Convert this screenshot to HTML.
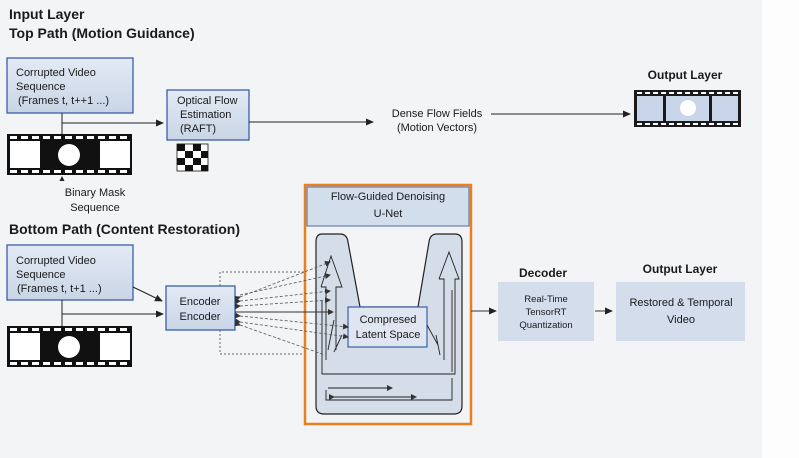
<!DOCTYPE html>
<html><head><meta charset="utf-8"><style>
html,body{margin:0;padding:0;background:#fff}
svg{display:block}
text{font-family:"Liberation Sans",sans-serif;fill:#1a1a1a}
</style></head><body>
<svg width="799" height="458" viewBox="0 0 799 458" xmlns="http://www.w3.org/2000/svg">
<defs>
<marker id="a" markerWidth="8" markerHeight="8" refX="7" refY="4" orient="auto" markerUnits="userSpaceOnUse"><path d="M0,0.5 L8,4 L0,7.5z" fill="#222"/></marker>
<marker id="s" markerWidth="6" markerHeight="6" refX="5" refY="3" orient="auto" markerUnits="userSpaceOnUse"><path d="M0,0 L6,3 L0,6z" fill="#333"/></marker>
<linearGradient id="g" x1="0" y1="0" x2="0" y2="1"><stop offset="0" stop-color="#e3eaf4"/><stop offset="1" stop-color="#c9d5e6"/></linearGradient>
</defs>
<rect width="762" height="458" fill="#f3f4f6"/>
<rect x="762" width="37" height="458" fill="#fdfdfd"/>

<text x="9" y="19" font-size="14" font-weight="bold">Input Layer</text>
<text x="9" y="38" font-size="14" font-weight="bold">Top Path (Motion Guidance)</text>

<rect x="7" y="58" width="126" height="55" fill="url(#g)" stroke="#3a5fa8" stroke-width="1.3"/>
<text x="16" y="76" font-size="11">Corrupted Video</text>
<text x="16" y="90" font-size="11">Sequence</text>
<text x="18" y="104" font-size="11">(Frames t, t++1 ...)</text>
<line x1="62" y1="113" x2="62" y2="134" stroke="#222"/>
<line x1="62" y1="123" x2="163" y2="123" stroke="#222" marker-end="url(#a)"/>

<g id="film">
<rect x="7" y="134" width="125" height="41" fill="#111"/>
<rect x="10" y="141" width="30" height="27" fill="#fff"/>
<rect x="100" y="141" width="30" height="27" fill="#fff"/>
<g fill="#fff">
<rect x="10" y="136" width="7" height="3"/><rect x="21" y="136" width="7" height="3"/><rect x="32" y="136" width="7" height="3"/><rect x="43" y="136" width="7" height="3"/><rect x="54" y="136" width="7" height="3"/><rect x="65" y="136" width="7" height="3"/><rect x="76" y="136" width="7" height="3"/><rect x="87" y="136" width="7" height="3"/><rect x="98" y="136" width="7" height="3"/><rect x="109" y="136" width="7" height="3"/><rect x="120" y="136" width="7" height="3"/>
<rect x="10" y="170" width="7" height="3"/><rect x="21" y="170" width="7" height="3"/><rect x="32" y="170" width="7" height="3"/><rect x="43" y="170" width="7" height="3"/><rect x="54" y="170" width="7" height="3"/><rect x="65" y="170" width="7" height="3"/><rect x="76" y="170" width="7" height="3"/><rect x="87" y="170" width="7" height="3"/><rect x="98" y="170" width="7" height="3"/><rect x="109" y="170" width="7" height="3"/><rect x="120" y="170" width="7" height="3"/>
<circle cx="69" cy="155" r="11"/>
</g>
</g>
<path d="M62,176 L59.5,181 L64.5,181z" fill="#222"/>
<text x="95" y="196" font-size="11" text-anchor="middle">Binary Mask</text>
<text x="95" y="211" font-size="11" text-anchor="middle">Sequence</text>

<rect x="167" y="90" width="82" height="50" fill="url(#g)" stroke="#3a5fa8" stroke-width="1.3"/>
<text x="177" y="104" font-size="11">Optical Flow</text>
<text x="180" y="118" font-size="11">Estimation</text>
<text x="180" y="132" font-size="11">(RAFT)</text>
<g fill="#111">
<rect x="177" y="144" width="31" height="27" fill="#fff" stroke="#111" stroke-width="0.8"/>
<rect x="177" y="144" width="8" height="7"/><rect x="193" y="144" width="8" height="7"/>
<rect x="185" y="151" width="8" height="7"/><rect x="201" y="151" width="7" height="7"/>
<rect x="177" y="158" width="8" height="7"/><rect x="193" y="158" width="8" height="7"/>
<rect x="185" y="165" width="8" height="6"/><rect x="201" y="165" width="7" height="6"/>
</g>
<line x1="249" y1="122" x2="373" y2="122" stroke="#222" marker-end="url(#a)"/>
<text x="437" y="117" font-size="11" text-anchor="middle">Dense Flow Fields</text>
<text x="437" y="131" font-size="11" text-anchor="middle">(Motion Vectors)</text>
<line x1="491" y1="114" x2="630" y2="114" stroke="#222" marker-end="url(#a)"/>

<text x="685" y="79" font-size="12" font-weight="bold" text-anchor="middle">Output Layer</text>
<rect x="634" y="90" width="107" height="37" fill="#1a1a1a"/>
<rect x="637" y="96" width="26" height="25" fill="#c9d6ea"/>
<rect x="666" y="96" width="43" height="25" fill="#c9d6ea"/>
<rect x="712" y="96" width="26" height="25" fill="#c9d6ea"/>
<circle cx="688" cy="108" r="8" fill="#fff"/>
<g stroke="#fff" stroke-width="2" stroke-dasharray="5,3"><line x1="637" y1="93" x2="740" y2="93"/><line x1="637" y1="124" x2="740" y2="124"/></g>

<text x="9" y="234" font-size="14" font-weight="bold">Bottom Path (Content Restoration)</text>
<rect x="7" y="245" width="126" height="55" fill="url(#g)" stroke="#3a5fa8" stroke-width="1.3"/>
<text x="16" y="264" font-size="11">Corrupted Video</text>
<text x="16" y="278" font-size="11">Sequence</text>
<text x="17" y="292" font-size="11">(Frames t, t+1 ...)</text>
<line x1="133" y1="287" x2="162" y2="301" stroke="#222" marker-end="url(#a)"/>
<line x1="62" y1="300" x2="62" y2="326" stroke="#222"/>
<line x1="62" y1="314" x2="163" y2="314" stroke="#222" marker-end="url(#a)"/>
<use href="#film" transform="translate(0,192)"/>

<rect x="166" y="286" width="69" height="44" fill="url(#g)" stroke="#3a5fa8" stroke-width="1.3"/>
<text x="200" y="305" font-size="11" text-anchor="middle">Encoder</text>
<text x="200" y="320" font-size="11" text-anchor="middle">Encoder</text>
<path d="M220,286 V272 H304 M220,330 V354 H304" fill="none" stroke="#666" stroke-dasharray="2,2"/>

<rect x="305" y="185" width="166" height="239" fill="#f3f4f6" stroke="#e8801f" stroke-width="2.5"/>
<rect x="307" y="187" width="162" height="39" fill="#d3deec" stroke="#4a6aa5"/>
<text x="388" y="200" font-size="11" text-anchor="middle">Flow-Guided Denoising</text>
<text x="388" y="217" font-size="11" text-anchor="middle">U-Net</text>
<path d="M322,234 H340 Q347,234 348,242 L360,307 H418 L429,242 Q430,234 437,234 H455 Q462,234 462,242 V406 Q462,414 454,414 H324 Q316,414 316,406 V242 Q316,234 322,234z" fill="#d5dde9" stroke="#222" stroke-width="1.2"/>
<rect x="348" y="307" width="79" height="40" fill="#dfe6f1" stroke="#3a5fa8" stroke-width="1.2"/>
<text x="388" y="323" font-size="11" text-anchor="middle">Compresed</text>
<text x="388" y="338" font-size="11" text-anchor="middle">Latent Space</text>
<g stroke="#222" fill="none" stroke-width="0.9">
<path d="M321,287 L331,256 L342,287 H336 V350 M321,287 H326 V360"/>
<path d="M334,320 L328,350 M342,335 L334,352"/>
<path d="M439,279 L449,252 L459,279 H455 V374 H322 V300"/>
<path d="M439,279 H444 V360 M452,290 V372"/>
<path d="M427,325 L438,345 M436,335 L440,355"/>
<path d="M326,390 V400 H452 V378"/>
<line x1="328" y1="388" x2="392" y2="388" marker-end="url(#s)"/>
<line x1="334" y1="397" x2="416" y2="397" marker-start="url(#s)" marker-end="url(#s)"/>
</g>
<g stroke="#555" stroke-width="0.8" stroke-dasharray="3,2" fill="none">
<line x1="240" y1="297" x2="330" y2="262" marker-start="url(#s)" marker-end="url(#s)"/>
<line x1="240" y1="301" x2="330" y2="291" marker-start="url(#s)" marker-end="url(#s)"/>
<line x1="240" y1="306" x2="330" y2="300" marker-start="url(#s)" marker-end="url(#s)"/>
<line x1="240" y1="316" x2="348" y2="327" marker-start="url(#s)" marker-end="url(#s)"/>
<line x1="240" y1="322" x2="348" y2="337" marker-start="url(#s)" marker-end="url(#s)"/>
<line x1="240" y1="325" x2="325" y2="355" marker-start="url(#s)"/>
<line x1="240" y1="295" x2="330" y2="275" marker-end="url(#s)"/>
</g>
<line x1="235" y1="312" x2="333" y2="312" stroke="#333" marker-end="url(#s)"/>
<line x1="471" y1="311" x2="496" y2="311" stroke="#333" marker-end="url(#a)"/>

<text x="543" y="277" font-size="12" font-weight="bold" text-anchor="middle">Decoder</text>
<rect x="498" y="282" width="96" height="59" fill="#d3ddec"/>
<text x="546" y="302" font-size="9.5" text-anchor="middle">Real-Time</text>
<text x="546" y="315" font-size="9.5" text-anchor="middle">TensorRT</text>
<text x="546" y="328" font-size="9.5" text-anchor="middle">Quantization</text>
<line x1="595" y1="311" x2="612" y2="311" stroke="#333" marker-end="url(#a)"/>
<text x="680" y="273" font-size="12" font-weight="bold" text-anchor="middle">Output Layer</text>
<rect x="616" y="282" width="129" height="59" fill="#d3ddec"/>
<text x="681" y="306" font-size="11" text-anchor="middle">Restored &amp; Temporal</text>
<text x="681" y="323" font-size="11" text-anchor="middle">Video</text>
</svg>
</body></html>
